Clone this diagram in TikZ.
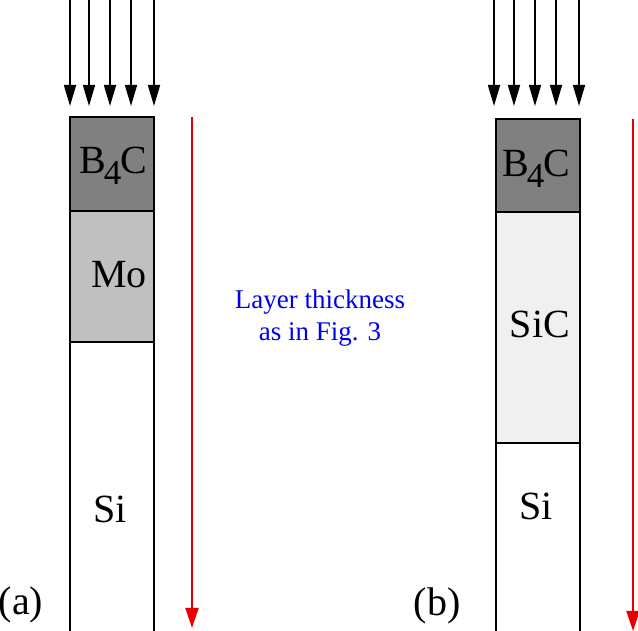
\documentclass[tikz,border=0pt]{standalone}
\usepackage{fontspec}
\setmainfont{Liberation Serif}
\usetikzlibrary{arrows.meta}
\definecolor{bfc}{RGB}{128,128,128}
\definecolor{mof}{RGB}{192,192,192}
\definecolor{sicf}{RGB}{240,240,240}
\definecolor{blu}{RGB}{0,0,240}
\definecolor{rd}{RGB}{230,0,0}
\newcommand{\bfourc}{B\kern-2pt\raisebox{-11pt}{\fontsize{35}{35}\selectfont 4}\kern-1pt C}
\begin{document}
\begin{tikzpicture}[x=1pt,y=1pt,
  edge/.style={draw=black,line width=2pt},
  lbl/.style={font=\fontsize{40}{40}\selectfont, inner sep=0pt, anchor=base},
  note/.style={font=\fontsize{27}{27}\selectfont, text=blu, inner sep=0pt, anchor=base},
  beam/.style={line width=1.6pt,-{Triangle[length=21pt,width=12pt]}},
  depth/.style={draw=rd,line width=2pt,-{Triangle[length=20pt,width=13pt]}}]
\useasboundingbox (0,0) rectangle (638,631);
% ---- left stack (a)
\fill[bfc] (70,420) rectangle (154,514);
\fill[mof] (70,289) rectangle (154,420);
\draw[edge] (70,0) -- (70,514) -- (154,514) -- (154,0);
\draw[edge] (70,420) -- (154,420);
\draw[edge] (70,289) -- (154,289);
% ---- right stack (b)
\fill[bfc] (496,419) rectangle (580,512);
\fill[sicf] (496,188) rectangle (580,419);
\draw[edge] (496,0) -- (496,512) -- (580,512) -- (580,0);
\draw[edge] (496,419) -- (580,419);
\draw[edge] (496,188) -- (580,188);
% ---- labels
\node[lbl] (lb4c) at (113,457) {\bfourc};
\node[lbl] (lmo) at (119,343) {Mo};
\node[lbl] (lsi) at (110,108) {Si};
\node[lbl] (la) at (21,16) {(a)};
\node[lbl] (rb4c) at (536,454) {\bfourc};
\node[lbl] (rsic) at (540,293) {SiC};
\node[lbl] (rsi) at (536,111) {Si};
\node[lbl] (rbl) at (437,15) {(b)};
\node[note] (n1) at (320,322) {Layer thickness};
\node[note] (n2) at (320,290) {as in Fig. 3};
% ---- incident beams
\foreach \i/\x in {1/70,2/89,3/110,4/131,5/154}{
  \coordinate (at\i) at (\x,631);
  \coordinate (ab\i) at (\x,525);
  \draw[beam] (at\i) -- (ab\i);
}
\foreach \i/\x in {1/494,2/514,3/535,4/556,5/579}{
  \coordinate (bt\i) at (\x,631);
  \coordinate (bb\i) at (\x,525);
  \draw[beam] (bt\i) -- (bb\i);
}
% ---- depth arrows
\coordinate (da1) at (192,514);
\coordinate (da2) at (192,3);
\draw[depth] (da1) -- (da2);
\coordinate (db1) at (633,512);
\coordinate (db2) at (633,0);
\draw[depth] (db1) -- (db2);
\end{tikzpicture}
\end{document}
